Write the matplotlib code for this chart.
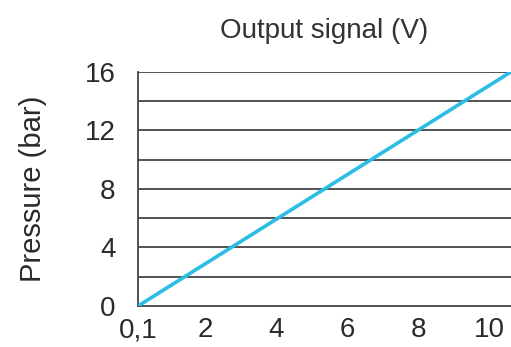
import matplotlib
matplotlib.use("Agg")
import matplotlib.pyplot as plt

# Output signal (V) vs pressure (bar), linear transfer
signal_v = [0.1, 10.6]
pressure_bar = [0, 16]

x_ticks = [0.1, 2, 4, 6, 8, 10]
x_tick_labels = ["0,1", "2", "4", "6", "8", "10"]
y_ticks = [0, 4, 8, 12, 16]
grid_levels = [2, 4, 6, 8, 10, 12, 14, 16]

plt.rcParams['font.family'] = ['Liberation Sans', 'DejaVu Sans']

fig = plt.figure(figsize=(5.11, 3.47), dpi=100)
ax = fig.add_axes([0.270, 0.118, 0.730, 0.675])

# horizontal grid lines
for lvl in grid_levels:
    ax.axhline(lvl, color='#444444', lw=1.3, zorder=1)

ax.plot(signal_v, pressure_bar, color='#2bbde3', lw=2.6, zorder=3,
        solid_capstyle='butt')

ax.set_xlim(0.1, 10.6)
ax.set_ylim(0, 16)
ax.set_xticks(x_ticks)
ax.set_xticklabels(x_tick_labels)
ax.set_yticks(y_ticks)
ax.tick_params(length=0, labelsize=20, colors='#2a2a2a')
ax.tick_params(axis='y', pad=16)
ax.tick_params(axis='x', pad=8)

for side in ['top', 'right']:
    ax.spines[side].set_visible(False)
for side in ['left', 'bottom']:
    ax.spines[side].set_color('#444444')
    ax.spines[side].set_linewidth(1.3)

ax.set_title("Output signal (V)", fontsize=20, color='#333333', pad=24)
ax.set_ylabel("Pressure (bar)", fontsize=21, color='#2a2a2a', labelpad=27)

fig.savefig("out.png", dpi=100)
